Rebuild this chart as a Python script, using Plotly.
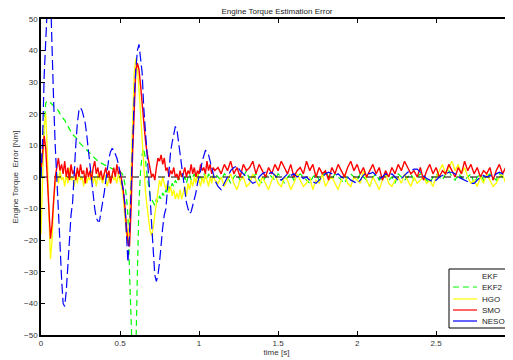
import numpy as np
import plotly.graph_objects as go

# ---- time grids (transient: 0..1.10 step 0.01, steady: 1.12..2.98 step 0.02)
# ---- EKF2 (green, dashed)
ekf2_tr = [0, 8, 18, 23.5, 24, 24, 23.5, 23, 22.5, 22, 21.5, 21, 20, 19.5, 18.5, 18, 17, 16, 15, 14,
           13.4, 13, 12.5, 12, 11, 10.5, 10, 9.3, 8.8, 8.3, 7.8, 7.3, 6.8, 6.3, 5.8, 5.4, 5, 4.7, 4.4, 4.2,
           4, 3.7, 3.4, 3.1, 2.9, 2.6, 2.4, 2.2, 2, 1.8, 1.6, 1.3, 0.5, -2, -6, -12, -30, -52, -60, -60,
           -56, -30, -8, 2, 7, 9, 6, 1, -3, -6, -7, -8, -9, -7, -8, -6, -7, -5, -6, -4,
           -5, -3, -4, -2, -3, -1, -2, 0, -1, 1, -1, 0, -2, 0, 1, -1, 0, 1, -1, 0,
           1, 0, -1, 1, 0, -1, 1, 0, -1, 0, 1]
ekf2_st = [0, -1, 1, 0, -2, 0, 1, -1, 0, 2, -1, 0, 1, -1, -2, 0, 1, 0, -1, 1, 0, -2, 0, 1, -1, 0, 1, 0,
           -1, -2, 0, 1, -1, 0, 2, 0, -1, 1, 0, -1, -2, 0, 1, 0, -1, 1, 0, -1, -3, 0, 1, -1, 0, 1, -1, 0,
           -2, 1, 0, -1, 0, 1, -1, 0, 1, 0, -1, -2, 0, 1, 0, -1, 1, 2, 0, -1, 1, 0, -1, 0, 1, -2, 0, 1,
           -1, 0, 1, 0, -1, 1, 0, -1, 0, 1]

# ---- HGO (yellow)
hgo_tr = [-18, 2, 16, 20, 8, -12, -26, -20, -8, -2, 1, -2, 2, -1, 0, -3, 1, -2, 3, -1,
          0, -3, 1, -2, 2, -1, 0, -3, 1, -2, 0, -1, 2, -2, 0, -3, 1, -1, 0, -2,
          1, -1, -3, 0, -2, 1, -1, 0, -2, 1, -1, -3, -6, -12, -18, -20, -14, 2, 20, 33,
          37.5, 34, 28, 20, 11, 3, -4, -9, -13, -17, -18.5, -16, -12, -8, -4, -1, -3, 0, -2, -4,
          -2, -5, -3, -6, -4, -7, -5, -7, -4, -7, -5, -3, -6, -2, -4, -1, -3, 0, -2, 1,
          -1, -3, 0, -2, 1, -1, -3, 0, -2, 1, -1]
hgo_st = [-2, 0, -3, -1, 1, -2, -4, -1, 0, -3, -2, 1, -1, -3, 0, -2, -4, -1, 1, -2, -3, 0, -1, -4,
          -2, 1, -1, -3, -2, 0, -4, -1, -2, 1, -3, -1, 0, -2, -4, -1, 1, -2, -3, 0, -1, -2, 2, -1,
          -3, 0, -2, -4, -1, 1, -2, -3, -1, 0, -2, 1, -1, -3, 0, -2, -1, 0, -2, -1, -3, 0, 2, 4,
          1, 3, 5, 2, 4, 1, 3, 0, -2, -1, -3, 0, -2, 1, -1, -3, -2, 0, 1, -2, -1, 0]

# ---- SMO (red)
smo_tr = [2, 8, 13, 9, -2, -12, -19.5, -15, -6, 0, 3, 6, 2, 4, 1, 5, 0, 3, -1, 4,
          1, 2, -1, 3, 0, 4, 1, 2, -2, 3, 0, 2, -1, 3, 5, 1, 3, 0, 2, -1,
          1, 3, 0, 2, -2, 1, 3, 0, 4, 1, 2, -1, -4, -9, -16, -21, -22, -10, 8, 24,
          34, 36, 34, 29, 23, 17, 12, 8, 5, 2, 0, 1, -1, 3, 6, 5, 7, 4, 6, 2,
          3, 0, 2, 1, 3, 0, 1, -1, 2, 0, 1, 3, 0, 2, 1, 4, 1, 3, 0, 2,
          1, 4, 2, 3, 1, 5, 2, 4, 1, 3, 2]
smo_st = [3, 1, 4, 2, 5, 1, 3, 0, 4, 2, 3, 5, 1, 4, 2, 0, 3, 1, 4, 2, 5, 3, 1, 4, 0, 2, 3, 1, 5, 2,
          4, 0, 3, 1, 2, -1, 3, 1, 4, 2, 0, 3, 5, 2, 4, 1, 3, 0, 2, 4, 1, 3, -1, 2, 0, 3, 1, 4, 2, 5,
          3, 1, 2, 0, 3, -1, 2, 4, 1, 3, 0, 2, 1, 4, 2, 0, 3, 1, 5, 2, 4, 1, 3, 0, 2, 1, 3, -1, 2, 4,
          1, 3, 0, 2]

# ---- NESO (blue)
neso_tr = [0, 12, 32, 47, 58, 65, 58, 38, 24, 10, 1, -8, -21, -32, -40, -41, -36, -28, -18, -12,
           -8, 2, 10, 17, 21, 22, 21, 19, 17, 13, 8, 4, 0, -6, -10, -13, -14, -14, -11, -8.5,
           -5, -1, 3, 6, 8, 9, 8.5, 7.5, 6, 4, 1.5, -1, -4, -8, -17, -27, -18, -2, 12, 25,
           34, 40, 42, 38, 33, 22, 15, 10, 3, -6, -15, -25, -31, -33, -31, -27, -21, -16, -12, -10,
           -4, 3, 8, 11, 14, 16, 15, 11, 7, 3, -1, -5, -8, -10, -11.6, -11, -9, -7, -5, -2,
           0, 2, 5, 7, 8.4, 8, 7, 5, 3, 1, -1]
neso_st = [-3, -4, -2, 0, 2, 3, 3.5, 2, 1, 0, -1, -2, -1.5, 0, 1, 1.5, 1, 1.5, 0.5, -0.5,
           -1, 0, 1, 0.5, 1, 0, 0.5, -0.5, 0, -1, -1.5, -2, -1, 0, 1, 1.5, 1, 0.5, 1, 0,
           -0.5, 0, -1, -1.5, -2, -1, 0.5, 1.5, 1, 1.5, 0.5, -0.5, 0, 1, 0.5, 1, 0, -1, -0.5, 0.5,
           1.5, 2, 2.5, 2.5, 1.5, 0.5, -0.5, -1, -1.5, -1, 0, 0.5, 1, 1.5, 1.5, 1, 0, -0.5, -1, -1.5,
           -2, -2, -1, 0, 0.5, 0, 0.5, 0, 1, 1.5, 1, 0.5, 1, 0.5]

# ---- EKF (white) and zero reference
ekf_t = [0, 2.98]
ekf_vals = [0, 0]
zero_t = [0, 2.98]
zero_vals = [0, 0]

x_ticks = [0, 0.5, 1, 1.5, 2, 2.5]
x_ticklabels = ["0", "0.5", "1", "1.5", "2", "2.5"]
y_ticks = [50, 40, 30, 20, 10, 0, -10, -20, -30, -40, -50]

legend_names = ["EKF", "EKF2", "HGO", "SMO", "NESO"]
legend_colors = ["white", "#00ff00", "#ffff00", "#ff0000", "#0000ff"]
legend_dash = ["solid", "6px,4px", "solid", "solid", "solid"]


def grid(tr, st):
    t_tr = np.round(np.arange(len(tr)) * 0.01, 4)
    t_st = np.round(1.12 + np.arange(len(st)) * 0.02, 4)
    return np.concatenate([t_tr, t_st]), np.array(tr + st, dtype=float)


fig = go.Figure()
fig.add_trace(go.Scatter(x=ekf_t, y=ekf_vals, mode="lines", name="EKF",
                         line=dict(color="white", width=1.2)))
t, v = grid(ekf2_tr, ekf2_st)
fig.add_trace(go.Scatter(x=t, y=v, mode="lines", name="EKF2",
                         line=dict(color="#00ff00", width=1.2, dash="6px,4px")))
t, v = grid(hgo_tr, hgo_st)
fig.add_trace(go.Scatter(x=t, y=v, mode="lines", name="HGO",
                         line=dict(color="#ffff00", width=1.3)))
fig.add_trace(go.Scatter(x=zero_t, y=zero_vals, mode="lines", name="zero",
                         line=dict(color="black", width=1.2, dash="7px,6px")))
t, v = grid(smo_tr, smo_st)
fig.add_trace(go.Scatter(x=t, y=v, mode="lines", name="SMO",
                         line=dict(color="#ff0000", width=1.4)))
t, v = grid(neso_tr, neso_st)
fig.add_trace(go.Scatter(x=t, y=v, mode="lines", name="NESO",
                         line=dict(color="#0000ff", width=1.2, dash="10px,4px")))

# The page body adds an 8px offset; figure is sized so the plot area lands
# at page pixels x 41..512, y 19..335.
OFF = 8
FIG_W, FIG_H = 505, 352
M_L, M_R, M_T, M_B = 33, 1, 11, 25
P_LEFT, P_RIGHT = OFF + M_L, OFF + FIG_W - M_R
P_TOP, P_BOTTOM = OFF + M_T, OFF + FIG_H - M_B


def px_x(p):
    return (p - P_LEFT) / (P_RIGHT - P_LEFT)


def px_y(p):
    return (P_BOTTOM - p) / (P_BOTTOM - P_TOP)


shapes = [dict(type="rect", xref="paper", yref="paper",
               x0=px_x(449), x1=px_x(507), y0=px_y(328), y1=px_y(269),
               fillcolor="white", line=dict(color="black", width=1), layer="above")]
annotations = []
entry_y = [276, 287, 299, 310, 321]
for name, col, dsh, yy in zip(legend_names, legend_colors, legend_dash, entry_y):
    shapes.append(dict(type="line", xref="paper", yref="paper",
                       x0=px_x(453), x1=px_x(477), y0=px_y(yy), y1=px_y(yy),
                       line=dict(color=col, width=1.2, dash=dsh), layer="above"))
    annotations.append(dict(text=name, xref="paper", yref="paper", x=px_x(480), y=px_y(yy),
                            xanchor="left", yanchor="middle", showarrow=False,
                            font=dict(family="Liberation Sans, Arial, sans-serif", size=8,
                                      color="#222222")))

axis_font = dict(family="Liberation Sans, Arial, sans-serif", size=8, color="#333333")
fig.update_layout(
    width=FIG_W, height=FIG_H,
    margin=dict(l=M_L, r=M_R, t=M_T, b=M_B, autoexpand=False),
    paper_bgcolor="white", plot_bgcolor="white",
    font=axis_font,
    showlegend=False,
    shapes=shapes, annotations=annotations,
    title=dict(text="Engine Torque Estimation Error", x=px_x(277) * (P_RIGHT - P_LEFT) / FIG_W + M_L / FIG_W,
               xanchor="center", y=1 - 3.5 / FIG_H, yanchor="middle",
               font=dict(size=8, color="#222222")),
    xaxis=dict(range=[0, 2.98], tickvals=x_ticks, ticktext=x_ticklabels,
               showgrid=False, zeroline=False, showline=True, linecolor="black",
               linewidth=1.5, mirror="ticks", ticks="inside", ticklen=4,
               tickcolor="black", tickwidth=1, tickfont=axis_font, automargin=False,
               title=dict(text="time [s]", font=axis_font, standoff=1)),
    yaxis=dict(range=[-50, 50], tickvals=y_ticks,
               showgrid=False, zeroline=False, showline=True, linecolor="black",
               linewidth=1.5, mirror="ticks", ticks="inside", ticklen=4,
               tickcolor="black", tickwidth=1, tickfont=axis_font, automargin=False,
               title=dict(text="Engine Torque\u00a0\u00a0Error [Nm]", font=axis_font, standoff=4)),
)

fig.write_html("out.html")
